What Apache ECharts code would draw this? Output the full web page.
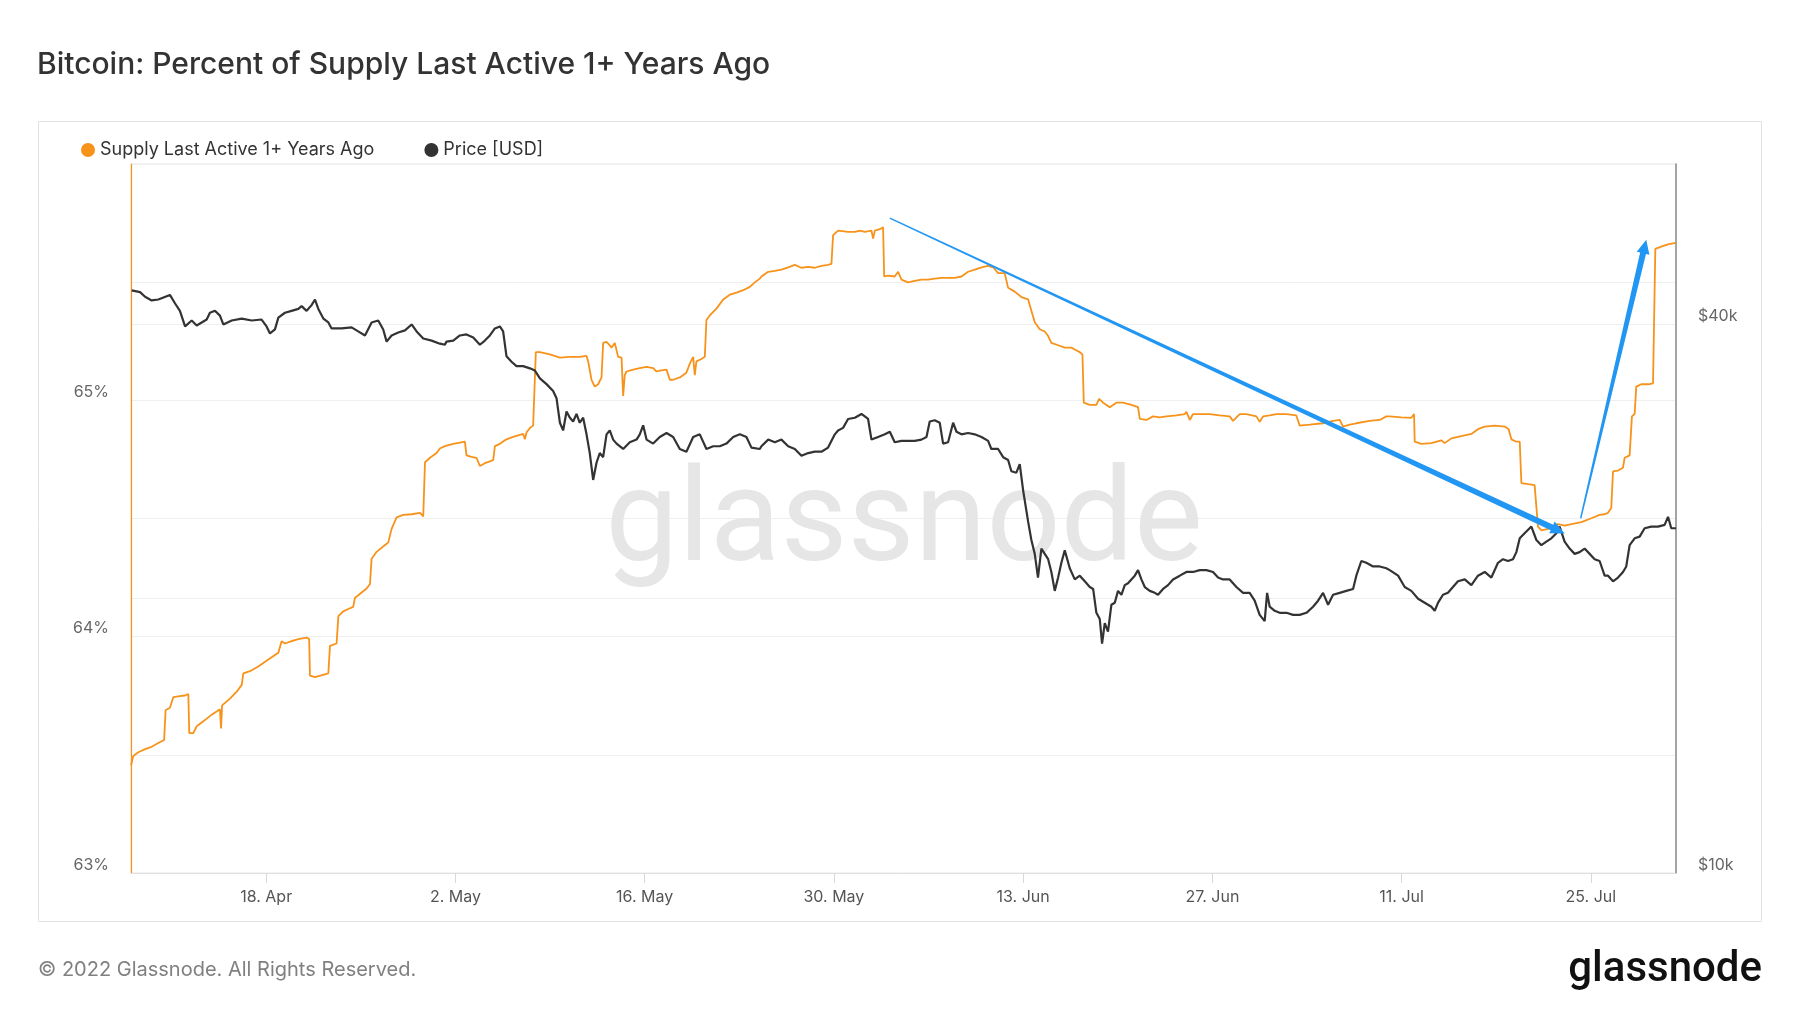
<!DOCTYPE html>
<html>
<head>
<meta charset="utf-8">
<script src="https://cdn.jsdelivr.net/npm/echarts@6/dist/echarts.min.js"></script>
<style>
html,body{margin:0;padding:0;background:#fff;}
#chart{width:1800px;height:1013px;}
</style>
</head>
<body>
<div id="chart"></div>
<script>
// ---------- data ----------
const startDate = '2022-04-08T00:00:00Z';
const endDay = 114.3; // days after start shown on the x axis

// Supply last active 1+ years ago (%), sampled at day offsets from startDate
const supplyDays = [
 0,0.17,0.54,1.04,1.53,2.02,2.45,2.56,2.88,3.13,3.62,3.99,4.24,4.31,4.61,4.86,5.47,5.97,6.58,6.66,6.74,7.32,7.82,8.19,8.31,8.8,9.42,10.16,10.9,11.14,11.39,11.88,12.38,12.99,13.18,13.24,13.61,14.6,14.72,15.21,15.34,15.7,16.07,16.44,16.57,16.81,17.43,17.68,17.8,18.17,18.79,19.03,19.28,19.65,20.14,20.76,21.38,21.62,21.75,22.12,22.61,22.85,23.22,
 23.34,23.84,24.33,24.7,24.82,25.19,25.56,25.81,26.18,26.55,26.8,26.92,27.29,27.78,28.27,28.77,29.01,29.14,29.26,29.51,29.75,29.95,30.25,30.99,31.73,32.47,33.2,33.7,33.82,34.07,34.31,34.56,34.81,34.93,35.18,35.42,35.55,35.79,36.04,36.29,36.41,36.53,36.66,37.15,37.64,38.14,38.63,38.88,39.12,39.62,39.86,40.11,40.6,41.09,41.34,41.59,41.71,41.83,42.2,42.45,42.57,42.82,43.31,43.81,44.3,44.79,45.29,45.78,46.15,46.52,
 46.64,47.14,47.63,48.12,48.62,49.11,49.6,50.1,50.59,51.08,51.57,51.82,51.94,52.31,53.05,53.55,53.92,54.29,54.78,54.9,55.03,55.4,55.64,55.72,56.01,56.5,56.75,57.0,57.49,57.98,58.48,58.97,59.46,59.96,60.45,60.94,61.44,61.93,62.42,62.92,63.41,63.78,64.15,64.64,64.89,65.38,65.87,66.37,66.61,66.86,67.23,67.6,67.85,68.09,68.59,69.08,69.57,69.82,70.19,70.39,
 70.49,70.93,71.42,71.62,71.92,72.41,72.9,73.39,74.01,74.5,74.63,75.12,75.61,76.11,76.6,77.34,77.96,78.08,78.33,78.57,79.07,79.8,80.54,81.28,81.53,82.02,82.52,83.26,83.5,83.75,84.24,84.74,85.48,86.21,86.46,87.2,88.19,88.93,89.42,89.67,90.16,90.65,91.64,92.38,92.87,93.12,
 93.24,93.98,94.72,94.92,94.97,95.46,96.2,96.94,97.19,97.68,98.42,99.16,99.65,100.15,100.89,101.63,101.92,102.12,102.49,102.74,102.86,103.35,103.84,103.97,104.09,104.34,104.83,105.2,105.57,106.06,106.56,107.3,108.04,108.65,109.02,109.27,109.51,109.64,110.01,110.38,110.5,110.87,111.04,111.24,111.36,111.73,112.23,112.6,112.77,113.21,113.71,114.27
];
const supplyValues = [
 63.456,63.495,63.511,63.524,63.534,63.550,63.563,63.689,63.699,63.744,63.748,63.751,63.757,63.592,63.592,63.621,63.647,63.670,63.693,63.612,63.709,63.738,63.767,63.796,63.845,63.854,63.874,63.903,63.932,63.981,63.971,63.981,63.990,63.996,63.990,63.835,63.829,63.845,63.961,63.971,64.087,64.107,64.117,64.126,64.165,64.175,64.204,64.223,64.330,64.359,64.388,64.398,64.456,64.505,64.515,64.518,64.524,64.509,64.738,64.757,64.777,64.796,64.806,
 64.806,64.816,64.821,64.825,64.767,64.761,64.757,64.722,64.734,64.742,64.748,64.806,64.816,64.835,64.845,64.854,64.858,64.835,64.864,64.883,64.893,65.204,65.204,65.194,65.181,65.184,65.184,65.188,65.165,65.087,65.058,65.068,65.097,65.243,65.247,65.233,65.223,65.243,65.184,65.181,65.019,65.107,65.122,65.130,65.136,65.142,65.136,65.122,65.126,65.130,65.087,65.087,65.097,65.117,65.155,65.184,65.107,65.165,65.175,65.184,65.340,65.359,65.388,65.427,65.447,65.456,65.466,65.480,65.499,65.515,
 65.524,65.544,65.548,65.553,65.563,65.573,65.561,65.565,65.561,65.569,65.573,65.577,65.699,65.718,65.713,65.713,65.718,65.713,65.718,65.685,65.718,65.724,65.732,65.524,65.528,65.524,65.544,65.511,65.499,65.505,65.511,65.511,65.515,65.518,65.518,65.518,65.524,65.544,65.553,65.563,65.569,65.563,65.538,65.538,65.476,65.460,65.437,65.427,65.379,65.330,65.301,65.291,65.272,65.243,65.233,65.223,65.223,65.215,65.204,65.194,
 64.990,64.981,64.981,65.006,64.990,64.971,64.990,64.990,64.981,64.971,64.922,64.917,64.932,64.928,64.932,64.936,64.942,64.951,64.917,64.942,64.942,64.942,64.936,64.932,64.913,64.942,64.942,64.932,64.909,64.932,64.936,64.942,64.942,64.936,64.893,64.897,64.903,64.913,64.917,64.889,64.897,64.903,64.913,64.917,64.932,64.932,
 64.928,64.928,64.926,64.942,64.825,64.816,64.819,64.831,64.819,64.839,64.849,64.858,64.878,64.889,64.893,64.889,64.878,64.835,64.825,64.825,64.650,64.645,64.641,64.637,64.466,64.450,64.456,64.466,64.476,64.470,64.476,64.485,64.501,64.515,64.518,64.524,64.544,64.699,64.703,64.715,64.757,64.767,64.932,64.942,65.058,65.068,65.068,65.072,65.641,65.650,65.660,65.666
];

// Price (USD), sampled at day offsets from startDate
const priceDays = [
 0.05,0.67,1.04,1.53,2.02,2.88,3.25,3.62,4.0,4.49,4.86,5.23,5.6,5.84,6.21,6.58,6.83,7.45,8.19,8.93,9.66,10.03,10.28,10.65,10.9,11.39,11.88,12.38,12.62,12.99,13.36,13.61,13.86,14.23,14.6,14.84,15.58,16.32,16.81,17.31,17.8,18.29,18.66,18.91,19.28,19.77,20.27,20.76,21.13,21.62,22.24,22.85,23.22,
 23.34,23.84,24.33,24.82,25.32,25.81,26.18,26.55,26.92,27.29,27.53,27.78,28.15,28.52,29.01,29.51,29.88,30.25,30.74,31.23,31.48,31.73,31.97,32.22,32.47,32.71,32.96,33.2,33.45,33.7,33.94,34.19,34.44,34.68,34.93,35.18,35.42,35.67,35.92,36.41,36.9,37.4,37.64,37.89,38.14,38.63,39.12,39.62,40.11,40.6,41.09,41.59,42.08,42.57,43.07,43.56,44.05,44.55,45.04,45.53,45.9,46.52,
 46.64,47.14,47.63,48.12,48.62,49.11,49.6,50.1,50.59,51.08,51.57,52.07,52.31,52.68,53.05,53.55,54.04,54.53,54.78,55.27,55.77,56.14,56.5,57.0,57.49,57.98,58.48,58.85,59.09,59.46,59.83,60.08,60.45,60.82,61.07,61.44,61.93,62.42,62.92,63.41,63.65,64.15,64.52,64.89,65.13,65.5,65.75,66.0,66.37,66.61,66.86,67.1,67.35,67.6,67.85,68.09,68.34,68.59,68.83,69.08,69.45,69.82,
 70.19,70.56,70.93,71.18,71.42,71.67,71.84,72.04,72.28,72.53,72.78,73.02,73.27,73.52,73.76,74.01,74.26,74.5,74.75,75.0,75.37,75.74,75.98,76.35,76.72,77.09,77.59,78.08,78.57,79.07,79.56,80.05,80.42,80.79,81.28,81.78,82.27,82.76,83.13,83.5,83.87,84.05,84.24,84.61,84.98,85.48,85.97,86.46,86.96,87.45,87.82,88.19,88.56,88.93,89.42,89.91,90.41,90.65,91.02,91.39,91.89,92.38,92.87,93.12,
 93.24,93.74,94.23,94.72,95.22,95.71,96.2,96.45,96.7,97.06,97.43,97.8,98.17,98.67,99.16,99.65,100.15,100.64,101.13,101.5,101.87,102.24,102.49,102.74,103.1,103.6,103.97,104.34,104.71,105.08,105.45,105.69,106.06,106.43,106.8,107.17,107.54,107.91,108.28,108.65,109.02,109.27,109.64,110.01,110.38,110.62,110.87,111.24,111.61,111.98,112.47,112.97,113.46,113.71,113.95,114.3
];
const priceValues = [
 43600,43400,42900,42500,42600,43100,42200,41400,39800,40400,39900,40200,40500,41200,41400,40900,40000,40400,40600,40400,40500,39800,39100,39500,40700,41200,41400,41600,41900,41400,42000,42600,41600,40600,40200,39600,39600,39700,39300,38900,40200,40400,39500,38300,38900,39200,39400,40000,39300,38600,38400,38100,38000,
 38300,38400,38900,39000,38700,38000,38400,38900,39600,39800,39300,36900,36400,36000,36000,35800,35600,34900,34400,33800,33200,31200,30600,32100,31600,31300,31900,31200,31600,30300,28900,27000,28200,28900,28600,30300,30600,29900,29600,29200,29700,29900,30300,31000,29900,29600,30100,30400,30100,29200,29000,30100,30300,29200,29400,29400,29600,30100,30300,30100,29300,29200,
 29400,29900,29700,29900,29400,29200,28700,28900,29000,29000,29300,30300,30600,30800,31500,31600,31900,31500,29900,30100,30300,30500,29700,29800,29800,29800,29900,30100,31300,31400,31200,29600,29700,31200,30500,30300,30400,30300,30100,29800,29200,29200,28600,28400,27600,27500,28100,26300,24300,23200,22400,21100,22700,22400,22100,21400,20400,21100,21900,22600,21600,21000,
 21200,20900,20600,20500,19300,19000,17850,18800,18400,19700,19800,20400,20200,20700,20800,21000,21200,21500,21000,20600,20400,20300,20200,20500,20700,21000,21200,21400,21400,21500,21500,21400,21100,21000,21000,20600,20300,20300,19900,19200,18900,20300,19600,19400,19300,19300,19200,19200,19300,19600,19900,20300,19700,20200,20300,20400,20500,21200,22000,21900,21700,21700,21600,21500,
 21600,21200,20600,20400,20000,19800,19600,19400,19800,20200,20300,20600,20900,21000,20700,21200,21400,21100,21900,22100,22000,22100,22500,23300,23600,24000,23200,22900,23100,23300,23600,24000,23100,22700,22400,22500,22700,22400,22100,22000,21200,21200,20900,21100,21400,21700,22900,23300,23400,23900,24000,24000,24100,24600,23900,23900
];

// Axis ticks / labels
const xTickDates = ['2022-04-18','2022-05-02','2022-05-16','2022-05-30','2022-06-13','2022-06-27','2022-07-11','2022-07-25'];
const monthNames = ['Jan','Feb','Mar','Apr','May','Jun','Jul','Aug','Sep','Oct','Nov','Dec'];
const leftLabels = [63, 64, 65];
const rightGridValues = [10000, 20000, 40000];
const rightLabelValues = [10000, 40000];

// Annotation arrows (day offset, percent)
const arrowFrom = [[56.14, 65.771], [107.25, 64.501]];
const arrowTo   = [[106.06, 64.437], [112.10, 65.680]];

// ---------- build ----------
const DAY = 86400000;
const t0 = Date.parse(startDate);
const toTime = d => t0 + d * DAY;
const supplyData = supplyDays.map((d, i) => [toTime(d), supplyValues[i]]);
const priceData = priceDays.map((d, i) => [toTime(d), priceValues[i]]);
const xTicks = xTickDates.map(s => Date.parse(s + 'T00:00:00Z'));

const FONT = 'Inter, "Noto Sans", sans-serif';
const ORANGE = '#f7931a';
const DARK = '#333333';

const chart = echarts.init(document.getElementById('chart'), null, {renderer: 'canvas'});

const option = {
  animation: false,
  backgroundColor: '#ffffff',
  textStyle: {fontFamily: FONT},
  legend: {
    left: 76, top: 136,
    icon: 'circle', itemWidth: 14, itemHeight: 14, itemGap: 50,
    textStyle: {fontSize: 18, color: '#333', fontFamily: FONT},
    data: ['Supply Last Active 1+ Years Ago', 'Price [USD]']
  },
  grid: {
    left: 131, right: 124, top: 164, bottom: 140,
    show: true, borderColor: '#e6e6e6', borderWidth: 1, backgroundColor: 'transparent'
  },
  xAxis: {
    type: 'value',
    min: toTime(0), max: toTime(endDay),
    axisLine: {show: true, lineStyle: {color: '#e0e0e0', width: 1}},
    axisTick: {show: true, length: 10, lineStyle: {color: '#d8d8d8'}, customValues: xTicks},
    axisLabel: {
      customValues: xTicks,
      margin: 16, fontSize: 16, color: '#555', fontFamily: FONT,
      formatter: v => { const d = new Date(v); return d.getUTCDate() + '. ' + monthNames[d.getUTCMonth()]; }
    },
    splitLine: {show: false}
  },
  yAxis: [
    {
      type: 'value', position: 'left',
      min: 63, max: 66, interval: 0.5,
      axisLine: {show: true, lineStyle: {color: ORANGE, width: 1.2}},
      axisTick: {show: false},
      axisLabel: {
        margin: 22, fontSize: 16, color: '#666', fontFamily: FONT, verticalAlign: 'bottom',
        formatter: v => leftLabels.indexOf(Math.round(v * 100) / 100) >= 0 ? v + '%' : ''
      },
      splitLine: {show: true, lineStyle: {color: '#efefef', width: 1}}
    },
    {
      type: 'log', logBase: 2, position: 'right',
      min: 10000, max: 60000,
      axisLine: {show: true, lineStyle: {color: '#8a8a8a', width: 1.5}},
      axisTick: {show: false, customValues: rightGridValues},
      axisLabel: {
        customValues: rightLabelValues,
        margin: 22, fontSize: 16, color: '#666', fontFamily: FONT, verticalAlign: 'bottom',
        formatter: v => '$' + Math.round(v / 1000) + 'k'
      },
      splitLine: {show: true, lineStyle: {color: '#efefef', width: 1}}
    }
  ],
  series: [
    {
      name: 'Supply Last Active 1+ Years Ago', type: 'line', yAxisIndex: 0,
      data: supplyData, showSymbol: false, symbol: 'none',
      lineStyle: {color: ORANGE, width: 1.8}, itemStyle: {color: ORANGE}, z: 3
    },
    {
      name: 'Price [USD]', type: 'line', yAxisIndex: 1,
      data: priceData, showSymbol: false, symbol: 'none',
      lineStyle: {color: DARK, width: 2.2}, itemStyle: {color: DARK}, z: 4
    }
  ],
  graphic: [
    {type: 'rect', id: 'panel', z: 0, silent: true,
     shape: {x: 38.5, y: 121.5, width: 1723, height: 800},
     style: {fill: 'none', stroke: '#e2e2e2', lineWidth: 1}},
    {type: 'text', id: 'title', z: 10, silent: true,
     style: {x: 37, y: 65, text: 'Bitcoin: Percent of Supply Last Active 1+ Years Ago',
             font: '500 30px ' + FONT, fill: '#333', align: 'left', verticalAlign: 'middle'}},
    {type: 'text', id: 'footer', z: 10, silent: true,
     style: {x: 38, y: 970, text: '© 2022 Glassnode. All Rights Reserved.',
             font: '400 20px ' + FONT, fill: '#808080', align: 'left', verticalAlign: 'middle'}},
    {type: 'text', id: 'logo', z: 10, silent: true,
     style: {x: 1762, y: 970, text: 'glassnode',
             font: '500 42px Roboto, sans-serif', fill: '#111', align: 'right', verticalAlign: 'middle'}},
    {type: 'text', id: 'watermark', z: 1, silent: true,
     style: {x: 904, y: 527, text: 'glassnode',
             font: '400 130px Roboto, sans-serif', fill: '#e6e6e6', align: 'center', verticalAlign: 'middle'}}
  ]
};
chart.setOption(option);

// ---------- annotation arrows placed through the chart's scales ----------
function arrowPoints(p0, p1, w0, w1, headLen, headW) {
  const dx = p1[0] - p0[0], dy = p1[1] - p0[1];
  const L = Math.hypot(dx, dy);
  const ux = dx / L, uy = dy / L, nx = -uy, ny = ux;
  const bx = p1[0] - ux * headLen, by = p1[1] - uy * headLen;
  return [
    [p0[0] + nx * w0 / 2, p0[1] + ny * w0 / 2],
    [bx + nx * w1 / 2, by + ny * w1 / 2],
    [bx + nx * headW / 2, by + ny * headW / 2],
    [p1[0], p1[1]],
    [bx - nx * headW / 2, by - ny * headW / 2],
    [bx - nx * w1 / 2, by - ny * w1 / 2],
    [p0[0] - nx * w0 / 2, p0[1] - ny * w0 / 2]
  ];
}
const arrows = arrowFrom.map((a, i) => {
  const p0 = chart.convertToPixel({xAxisIndex: 0, yAxisIndex: 0}, [toTime(a[0]), a[1]]);
  const b = arrowTo[i];
  const p1 = chart.convertToPixel({xAxisIndex: 0, yAxisIndex: 0}, [toTime(b[0]), b[1]]);
  return {
    type: 'polygon', id: 'arrow' + i, z: 50, silent: true,
    shape: {points: arrowPoints(p0, p1, 1.4, 6, 14, 13)},
    style: {fill: '#2196f3', stroke: 'none'}
  };
});
chart.setOption({graphic: arrows});
</script>
</body>
</html>
